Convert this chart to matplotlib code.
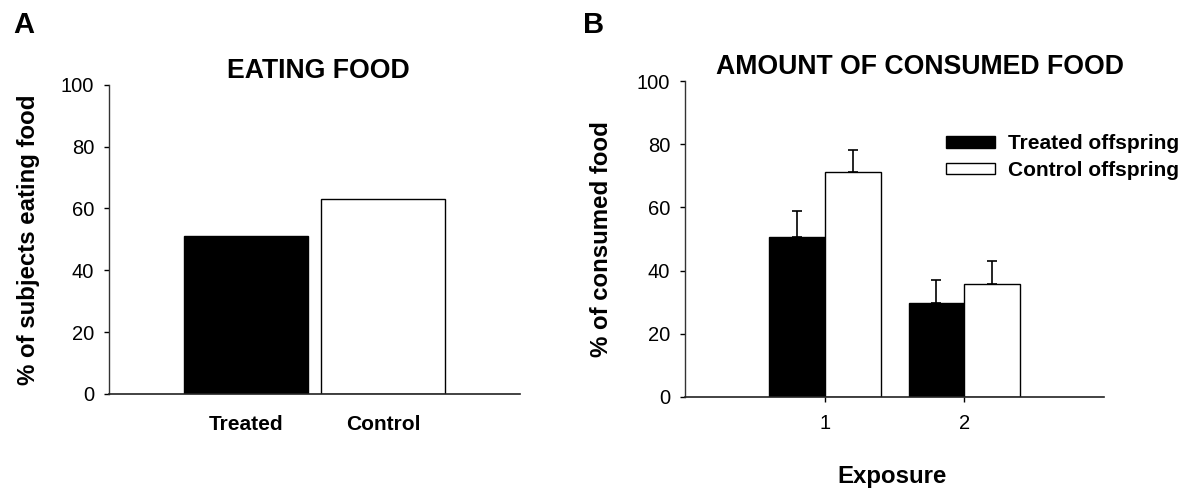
import numpy as np
import matplotlib
matplotlib.use("Agg")
import matplotlib.pyplot as plt

plt.rcParams['font.family'] = ['Liberation Sans', 'DejaVu Sans']

# ---- data ----
groups_a = ['Treated', 'Control']
eating_pct = [51.0, 63.2]

exposures = [1, 2]
treated_mean = [50.5, 29.8]
treated_err = [8.3, 7.1]
control_mean = [71.3, 35.9]
control_err = [7.0, 7.0]

fig = plt.figure(figsize=(11.92, 4.88), dpi=100)

# ---- panel A ----
ax1 = fig.add_axes([0.0914, 0.193, 0.345, 0.633])
xa = np.arange(1, len(groups_a) + 1)
ax1.bar(xa, eating_pct, width=0.9, color=['black', 'white'],
        edgecolor='black', linewidth=1.0)
ax1.set_xlim(0, 3)
ax1.set_ylim(0, 100)
ax1.set_yticks(np.arange(0, 101, 20))
ax1.set_xticks(xa)
ax1.set_xticklabels(groups_a, fontsize=15, fontweight='bold')
ax1.tick_params(axis='x', length=0, pad=15)
ax1.tick_params(axis='y', direction='out', length=3.6, width=1, labelsize=14.5, pad=7)
ax1.set_ylabel('% of subjects eating food', fontsize=17.3, fontweight='bold')
ax1.yaxis.set_label_coords(-0.168, 0.5)
ax1.text(0.51, 1.023, 'EATING FOOD', transform=ax1.transAxes, ha='center',
         va='baseline', fontsize=19.2, fontweight='bold')

# ---- panel B ----
ax2 = fig.add_axes([0.5747, 0.1865, 0.3515, 0.6475])
xb = np.array(exposures)
w = 0.4
ax2.bar(xb - w / 2, treated_mean, width=w, color='black', edgecolor='black',
        linewidth=1.0, label='Treated offspring',
        yerr=[np.zeros(len(xb)), treated_err],
        error_kw=dict(ecolor='black', elinewidth=1.2, capsize=3.6, capthick=1.2))
ax2.bar(xb + w / 2, control_mean, width=w, color='white', edgecolor='black',
        linewidth=1.0, label='Control offspring',
        yerr=[np.zeros(len(xb)), control_err],
        error_kw=dict(ecolor='black', elinewidth=1.2, capsize=3.6, capthick=1.2))
ax2.set_xlim(0, 3)
ax2.set_ylim(0, 100)
ax2.set_yticks(np.arange(0, 101, 20))
ax2.set_xticks(xb)
ax2.tick_params(axis='x', direction='out', length=3.6, width=1, labelsize=14.5, pad=9)
ax2.tick_params(axis='y', direction='out', length=3.6, width=1, labelsize=14.5, pad=7)
ax2.set_ylabel('% of consumed food', fontsize=17.3, fontweight='bold')
ax2.yaxis.set_label_coords(-0.172, 0.5)
ax2.set_xlabel('Exposure', fontsize=17.3, fontweight='bold')
ax2.xaxis.set_label_coords(0.494, -0.215)
ax2.text(0.561, 1.022, 'AMOUNT OF CONSUMED FOOD', transform=ax2.transAxes,
         ha='center', va='baseline', fontsize=19.2, fontweight='bold')

leg = ax2.legend(loc='center left', bbox_to_anchor=(946 / 1192, 1 - 157 / 488),
                 bbox_transform=fig.transFigure, frameon=False,
                 prop={'size': 15, 'weight': 'bold'}, handlelength=2.35,
                 handleheight=0.45, handletextpad=0.65, labelspacing=0.35,
                 borderpad=0, borderaxespad=0)

for ax in (ax1, ax2):
    ax.spines['top'].set_visible(False)
    ax.spines['right'].set_visible(False)
    ax.spines['left'].set_linewidth(1.0)
    ax.spines['left'].set_color('#333333')
    ax.spines['bottom'].set_linewidth(1.2)
    ax.spines['bottom'].set_color('#222222')

fig.text(0.011, 1 - 33 / 488, 'A', fontsize=21, fontweight='bold', va='baseline')
fig.text(0.489, 1 - 33 / 488, 'B', fontsize=21, fontweight='bold', va='baseline')

fig.savefig('out.png', dpi=100)
